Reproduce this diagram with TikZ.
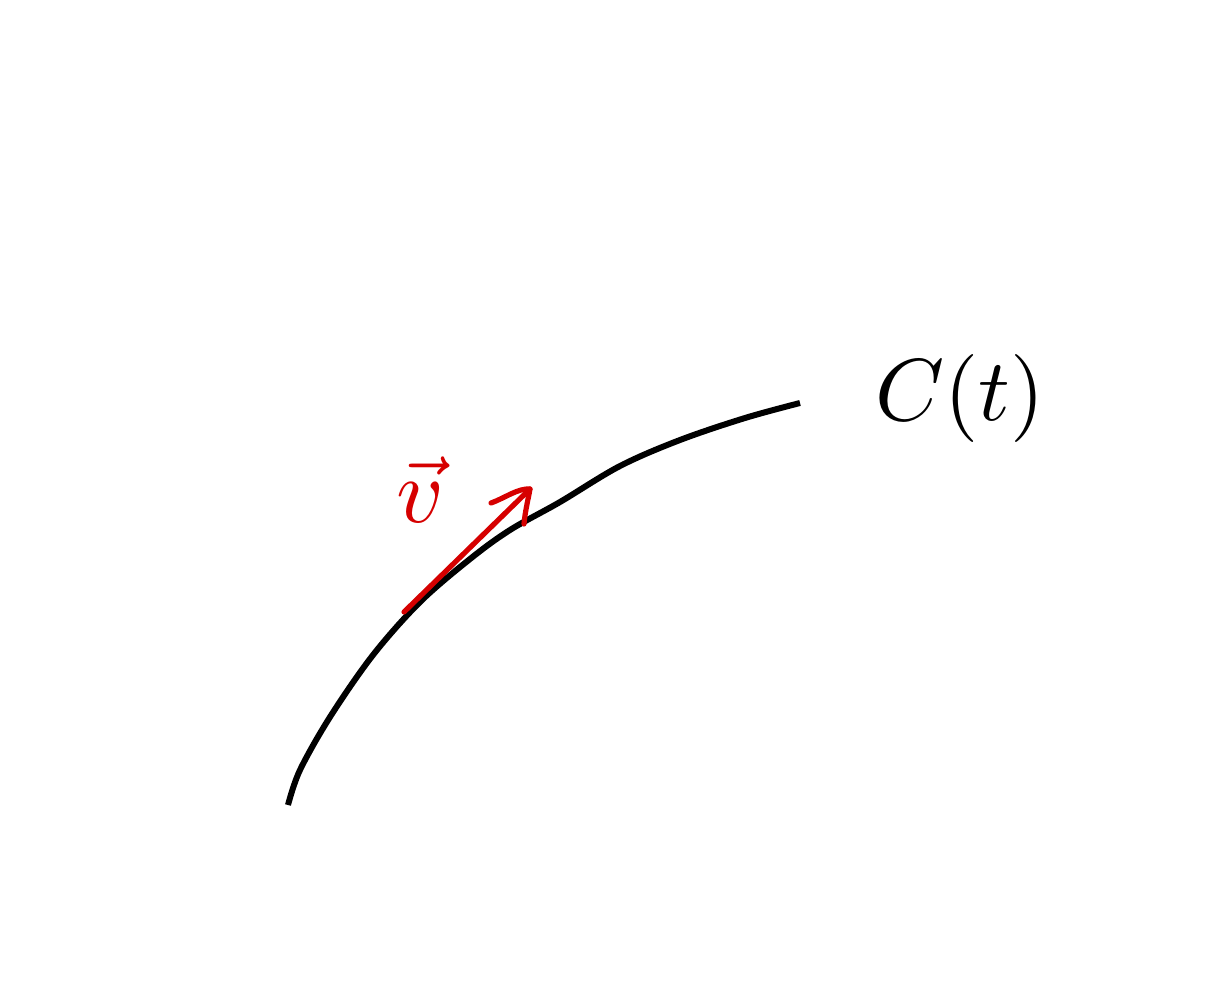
\documentclass[tikz,border=0pt]{standalone}
\usetikzlibrary{arrows.meta}
\definecolor{penred}{RGB}{214,0,0}
\begin{document}
\begin{tikzpicture}[x=0.5pt,y=-0.5pt,
  curveline/.style={line width=3pt,black,line cap=butt,line join=round},
  vecline/.style={line width=2.6pt,penred,line cap=round,line join=round},
  lbl/.style={inner sep=0pt,outer sep=0pt}]
\useasboundingbox (0,0) rectangle (1210,1000);
\fill[white] (0,0) rectangle (1210,1000);
% curve C(t)
\draw[curveline] plot[smooth,tension=0.55] coordinates {
 (288,805) (300,770) (330,717) (373,655) (420,602) (470,559)
 (510,530) (560,502) (620,466) (680,440) (745,418) (800,403)};
% tangent vector
\coordinate (vtail) at (404,612);
\coordinate (vhead) at (530,489);
\coordinate (hA) at (491,503);
\coordinate (hB) at (524,524);
\draw[vecline] (vtail) -- (vhead);
\draw[vecline] (hA) .. controls (505,498) and (518,488) .. (vhead) .. controls (528,500) and (525,512) .. (hB);
% labels
\node[lbl,penred,scale=4.6] (vlabel) at (420,490) {$\vec{v}$};
\node[lbl,scale=4.4] (clabel) at (960,398) {$C(t)$};
\end{tikzpicture}
\end{document}
